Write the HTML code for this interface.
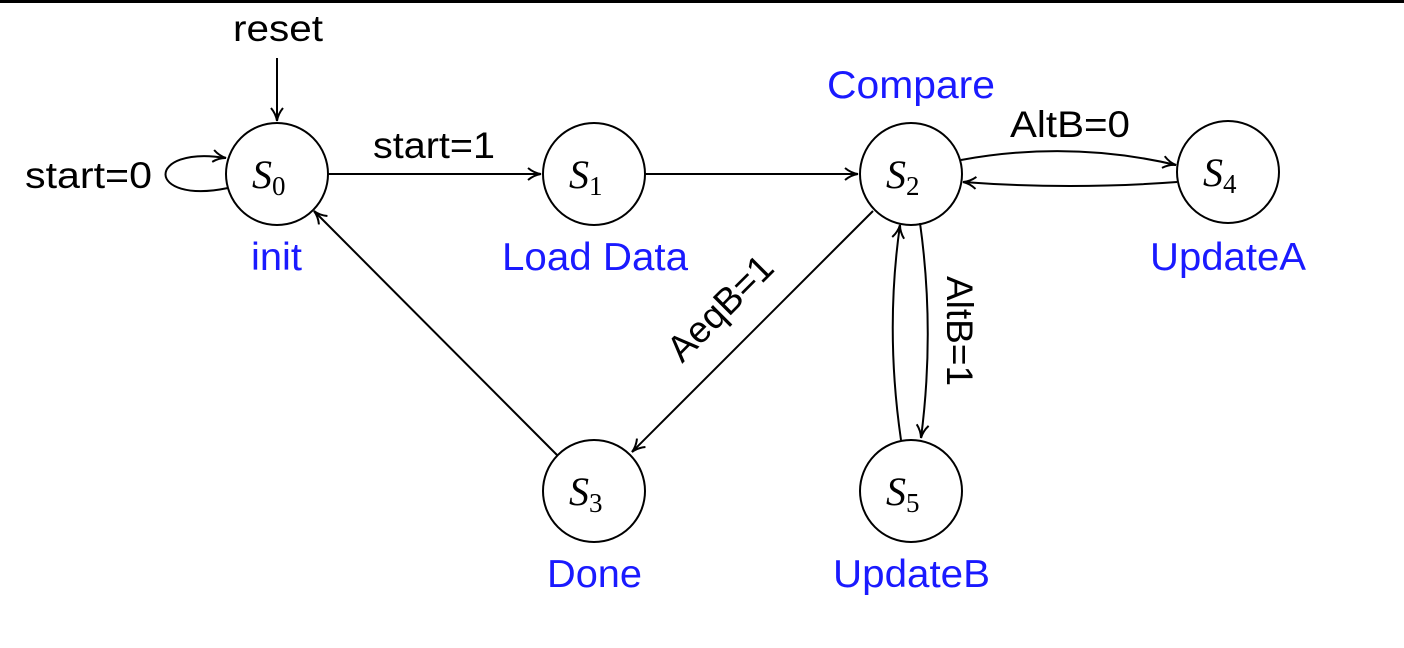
<!DOCTYPE html>
<html><head><meta charset="utf-8"><style>
html,body{margin:0;padding:0;background:#fff;}
svg{display:block;}
.l{font-family:"Liberation Sans",sans-serif;font-size:37px;fill:#000;}
.b{font-family:"Liberation Sans",sans-serif;font-size:39px;fill:#1a1aff;}
.s{font-family:"Liberation Serif",serif;font-style:italic;font-size:40px;fill:#000;}
.sub{font-family:"Liberation Serif",serif;font-style:normal;font-size:27px;}
</style></head><body>
<svg width="1404" height="648" viewBox="0 0 1404 648" xmlns="http://www.w3.org/2000/svg">
<defs>
<marker id="a" markerWidth="16" markerHeight="14" refX="14" refY="7" orient="auto" markerUnits="userSpaceOnUse">
<path d="M1,1 Q7,6 14,7 Q7,8 1,13" fill="none" stroke="#000" stroke-width="2"/>
</marker>
</defs>
<rect x="0" y="0" width="1404" height="3" fill="#000"/>
<g fill="none" stroke="#000" stroke-width="2">
<circle cx="277" cy="174" r="51"/>
<circle cx="594" cy="174" r="51"/>
<circle cx="911" cy="174" r="51"/>
<circle cx="1228" cy="172" r="51"/>
<circle cx="594" cy="491" r="51"/>
<circle cx="911" cy="491" r="51"/>
<path d="M277,58 L277,121" marker-end="url(#a)"/>
<path d="M228,188 C145,205 145,145 226,158" marker-end="url(#a)"/>
<path d="M328,174 L541,174" marker-end="url(#a)"/>
<path d="M645,174 L858,174" marker-end="url(#a)"/>
<path d="M961,160 Q1070,140 1176,165" marker-end="url(#a)"/>
<path d="M1177,182 Q1070,190 963,182" marker-end="url(#a)"/>
<path d="M873,211 L632,452" marker-end="url(#a)"/>
<path d="M557,455 L314,211" marker-end="url(#a)"/>
<path d="M920,223 Q935,330 921,438" marker-end="url(#a)"/>
<path d="M901,440 Q885,330 900,225" marker-end="url(#a)"/>
</g>
<text class="l" x="233" y="41" textLength="90" lengthAdjust="spacingAndGlyphs">reset</text>
<text class="l" x="25" y="188" textLength="127" lengthAdjust="spacingAndGlyphs">start=0</text>
<text class="l" x="373" y="158" textLength="122" lengthAdjust="spacingAndGlyphs">start=1</text>
<text class="l" x="1010" y="137" textLength="120" lengthAdjust="spacingAndGlyphs">AltB=0</text>
<text class="l" x="0" y="0" text-anchor="middle" transform="translate(729,317) rotate(-45)">AeqB=1</text>
<text class="l" x="0" y="0" text-anchor="middle" transform="translate(947,331) rotate(90)">AltB=1</text>
<text class="s" x="252" y="188">S<tspan class="sub" dy="7">0</tspan></text>
<text class="s" x="569" y="188">S<tspan class="sub" dy="7">1</tspan></text>
<text class="s" x="886" y="188">S<tspan class="sub" dy="7">2</tspan></text>
<text class="s" x="1203" y="186">S<tspan class="sub" dy="7">4</tspan></text>
<text class="s" x="569" y="505">S<tspan class="sub" dy="7">3</tspan></text>
<text class="s" x="886" y="505">S<tspan class="sub" dy="7">5</tspan></text>
<text class="b" x="251" y="270" textLength="51" lengthAdjust="spacingAndGlyphs">init</text>
<text class="b" x="502" y="270" textLength="186" lengthAdjust="spacingAndGlyphs">Load Data</text>
<text class="b" x="827" y="98" textLength="168" lengthAdjust="spacingAndGlyphs">Compare</text>
<text class="b" x="1150" y="270" textLength="156" lengthAdjust="spacingAndGlyphs">UpdateA</text>
<text class="b" x="547" y="587" textLength="95" lengthAdjust="spacingAndGlyphs">Done</text>
<text class="b" x="833" y="587" textLength="157" lengthAdjust="spacingAndGlyphs">UpdateB</text>
</svg>
</body></html>
